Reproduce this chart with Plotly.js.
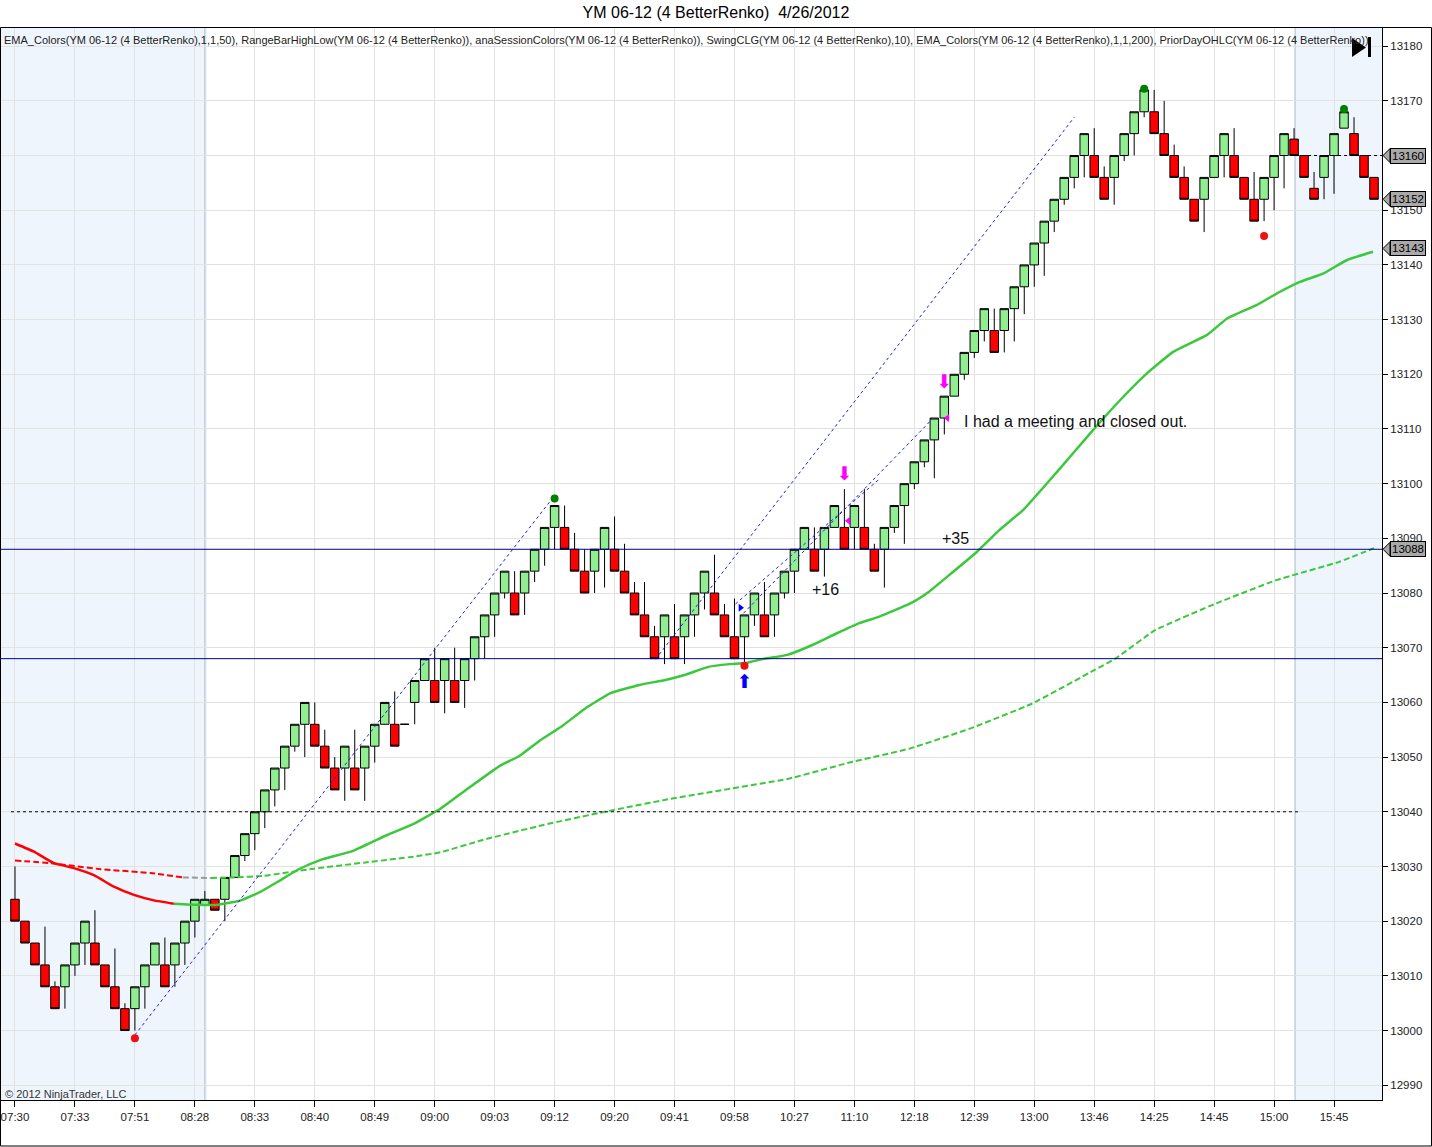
<!DOCTYPE html>
<html>
<head>
<meta charset="utf-8">
<script src="https://cdn.plot.ly/plotly-3.0.1.min.js"></script>
<style>html,body{margin:0;padding:0;background:#fff;}#chart{width:1432px;height:1147px;}</style>
</head>
<body>
<div id="chart"></div>
<script>
// ---------------- DATA ----------------
const barOpen = [13024,13020,13016,13012,13008,13008,13012,13016,13016,13012,13008,13004,13004,13008,13012,13012,13012,13016,13020,13023,
13024,13024,13028,13032,13036,13040,13044,13048,13052,13056,13056,13052,13048,13048,13048,13048,13052,13056,13056,13056,
13060,13064,13064,13064,13064,13064,13068,13072,13076,13080,13080,13080,13084,13088,13092,13092,13088,13084,13084,13088,
13088,13084,13080,13076,13072,13072,13072,13072,13076,13080,13080,13076,13072,13072,13076,13076,13076,13080,13084,13088,
13088,13088,13092,13092,13092,13092,13088,13088,13092,13096,13100,13104,13108,13112,13116,13120,13124,13128,13128,13128,
13132,13136,13140,13144,13148,13152,13156,13160,13160,13156,13156,13160,13164,13168,13168,13164,13160,13156,13152,13152,
13156,13160,13160,13156,13152,13152,13156,13160,13163,13160,13154,13156,13160,13165,13164,13160,13156];
const barHigh = [13030,13020,13016,13019,13009,13012,13016,13020,13022,13012,13015,13005,13008,13012,13016,13017,13016,13020,13024,13025.5,
13024,13028,13032,13036,13040,13044,13048,13052,13056,13060,13060,13055,13050,13052,13055,13052,13056,13060,13062,13056,
13064,13068,13070,13068,13070,13068,13072,13076,13080,13084,13084,13084,13088,13092,13096,13096,13091,13088,13088,13092,
13094,13089,13082,13082,13074,13076,13078,13076,13080,13084,13087,13078,13079,13076,13080,13082,13080,13084,13088,13092,
13092,13092,13096,13099,13096,13099,13089,13092,13096,13100,13104,13108,13112,13116,13120,13124,13128,13132,13132,13132,
13136,13140,13144,13148,13152,13156,13160,13164,13165,13158,13160,13164,13168,13172,13172,13170,13162,13158,13152,13156,
13160,13164,13165,13156,13157,13156,13160,13164,13165,13160,13157,13160,13164,13168,13167,13160,13156];
const barLow = [13020,13016,13012,13008,13004,13004,13010,13012,13012,13008,13004,13000,13000,13004,13012,13008,13008,13012,13017,13023,
13022,13020,13028,13031,13033,13037,13041,13044,13051,13050,13052,13048,13044,13042,13044,13042,13049,13056,13052,13056,
13056,13064,13060,13058,13060,13059,13064,13068,13072,13079,13076,13076,13082,13085,13088,13088,13084,13080,13080,13081,
13084,13080,13076,13072,13068,13067,13068,13067,13072,13077,13076,13072,13068,13067,13074,13072,13072,13079,13080,13088,
13084,13083,13092,13088,13088,13088,13084,13081,13091,13089,13099,13103,13101,13109,13116,13119,13123,13126,13124,13124,
13126,13131,13136,13138,13146,13151,13154,13156,13156,13152,13151,13159,13160,13167,13164,13160,13156,13152,13148,13146,
13156,13156,13156,13152,13148,13148,13150,13154,13160,13156,13152,13152,13153,13165,13160,13156,13152];
const barClose = [13020,13016,13012,13008,13004,13012,13016,13020,13012,13008,13004,13000,13008,13012,13016,13008,13016,13020,13024,13024,
13022,13028,13032,13036,13040,13044,13048,13052,13056,13060,13052,13048,13044,13052,13044,13052,13056,13060,13052,13056,
13064,13068,13060,13068,13060,13068,13072,13076,13080,13084,13076,13084,13088,13092,13096,13088,13084,13080,13088,13092,
13084,13080,13076,13072,13068,13076,13068,13076,13080,13084,13076,13072,13068,13076,13080,13072,13080,13084,13088,13092,
13084,13092,13096,13088,13096,13088,13084,13092,13096,13100,13104,13108,13112,13116,13120,13124,13128,13132,13124,13132,
13136,13140,13144,13148,13152,13156,13160,13164,13156,13152,13160,13164,13168,13172,13164,13160,13156,13152,13148,13156,
13160,13164,13156,13152,13148,13156,13160,13164,13160,13156,13152,13160,13164,13168,13160,13156,13152];

const tickBars   = [0,6,12,18,24,30,36,42,48,54,60,66,72,78,84,90,96,102,108,114,120,126,132];
const tickLabels = ["07:30","07:33","07:51","08:28","08:33","08:40","08:49","09:00","09:03","09:12","09:20","09:41",
                    "09:58","10:27","11:10","12:18","12:39","13:00","13:46","14:25","14:45","15:00","15:45"];

// EMA(50) solid
const ema50Bar = [0,1.9,3.9,5.9,7.9,9.9,11.9,13.9,15.9,18.3,20.3,22.6,24.6,26.3,28.3,30.6,33.9,37.3,39.9,42.6,45.5,48.6,50.4,52.5,54.7,57.0,59.6,62.5,65.1,67.0,69.4,71.5,73.1,75.0,77.3,79.8,82.2,84.5,86.5,89.6,91.5,93.3,96.3,98.5,100.9,104.3,107.6,110.3,113.3,115.9,119.3,121.3,124.3,126.5,128.6,130.9,133.3,135.9];
const ema50Val = [13034.2,13032.7,13030.6,13029.7,13028.4,13026.3,13024.8,13023.8,13023.2,13023.0,13023.0,13023.8,13025.4,13027.2,13029.4,13031.2,13032.9,13035.8,13037.8,13040.6,13044.5,13048.5,13050.1,13053.0,13055.6,13058.8,13061.7,13063.2,13064.1,13065.0,13066.5,13067.0,13067.2,13068.0,13068.7,13070.5,13072.6,13074.5,13075.7,13078.1,13080.3,13083.0,13087.6,13091.5,13095.2,13102.2,13109.2,13114.7,13120.2,13124.1,13127.2,13130.2,13132.7,13135.0,13136.9,13138.4,13140.9,13142.4];
const ema50RedUntil = 8;   // index of last falling (red) point

// EMA(200) dashed
const ema200Bar = [0,3.6,8.6,13.6,16.8,19.6,21.9,24.9,29.9,34.9,39.9,42.6,46.7,52.9,59.0,65.1,71.2,77.3,83.5,89.6,95.7,101.8,108.0,110.1,114.1,120.2,126.3,132.5,136.0];
const ema200Val = [13031.1,13030.6,13029.5,13028.8,13028.0,13027.9,13028.0,13028.3,13029.6,13030.7,13031.8,13032.6,13034.8,13037.6,13040.0,13042.2,13044.1,13046.0,13049.0,13051.6,13055.3,13059.8,13065.9,13068.0,13073.2,13078.1,13082.4,13085.7,13088.2];
const ema200RedUntil = 4, ema200GreyUntil = 5;

// swing points
const swingHighBar = [54,113,133], swingHighVal = [13097.3,13172.2,13168.5];
const swingLowBar  = [12,73,125],  swingLowVal  = [12998.6,13066.7,13145.3];

// drawn trend lines [bar0, price0, bar1, price1]
const trendLines = [
  [12.0,12999.2,53.9,13097.6],
  [64.1,13067.9,106.0,13167.0],
  [72.1,13078.0,86.6,13101.0],
  [72.9,13076.3,91.9,13112.0]
];

// signal arrows
const exitArrowBar = [83,93], exitArrowVal = [13101.6,13118.4];
const entryArrowBar = [73], entryArrowVal = [13063.5];
const exitMarkBar = [83.4,93.3], exitMarkVal = [13093.2,13112.0];
const entryMarkBar = [72.6], entryMarkVal = [13077.3];

// levels
const levelLines = [13088,13068];
const priorDayLevel = 13040;
const priorCloseLevel = 13160;
const axisTags = [13160,13152,13143,13088];

const notes = [
  {bar:81.1, val:13080.7, text:"+16", anchor:"center"},
  {bar:94.1, val:13089.9, text:"+35", anchor:"center"},
  {bar:94.8, val:13111.3, text:"I had a meeting and closed out.", anchor:"left"}
];

const titleText = "YM 06-12 (4 BetterRenko)  4/26/2012";
const headerText = "EMA_Colors(YM 06-12 (4 BetterRenko),1,1,50), RangeBarHighLow(YM 06-12 (4 BetterRenko)), anaSessionColors(YM 06-12 (4 BetterRenko)), SwingCLG(YM 06-12 (4 BetterRenko),10), EMA_Colors(YM 06-12 (4 BetterRenko),1,1,200), PriorDayOHLC(YM 06-12 (4 BetterRenko))";
const copyrightText = "© 2012 NinjaTrader, LLC";

// ---------------- LAYOUT HELPERS ----------------
const W = 1432, H = 1147, ML = 1, MR = 50, MT = 27, MB = 47;
const PW = W - ML - MR, PH = H - MT - MB;
const px2x = px => (px - ML) / PW;
const py2y = py => 1 - (py - MT) / PH;
const Y0 = 12987.3, Y1 = 13183.5;
const ptsPerPx = (Y1 - Y0) / PH;
const FONT = "Liberation Sans, Arial, sans-serif";
const bars = barOpen.map((_, i) => i);
const GREEN = "#3cc83c", RED = "#ff0000";

const traces = [];
// candles
traces.push({
  type: "candlestick", x: bars, open: barOpen, high: barHigh, low: barLow, close: barClose,
  increasing: {line: {color: "#000", width: 1}, fillcolor: "#90ee90"},
  decreasing: {line: {color: "#000", width: 1}, fillcolor: "#ff0000"},
  whiskerwidth: 0, hoverinfo: "skip", showlegend: false
});
// EMA 50
traces.push({type:"scatter", mode:"lines", x: ema50Bar.slice(0, ema50RedUntil+1), y: ema50Val.slice(0, ema50RedUntil+1),
  line:{color:RED, width:2.5, shape:"spline", smoothing:0.4}, hoverinfo:"skip", showlegend:false});
traces.push({type:"scatter", mode:"lines", x: ema50Bar.slice(ema50RedUntil), y: ema50Val.slice(ema50RedUntil),
  line:{color:GREEN, width:2.5, shape:"spline", smoothing:0.4}, hoverinfo:"skip", showlegend:false});
// EMA 200
traces.push({type:"scatter", mode:"lines", x: ema200Bar.slice(0, ema200RedUntil+1), y: ema200Val.slice(0, ema200RedUntil+1),
  line:{color:RED, width:2, dash:"6px,3px", shape:"spline", smoothing:0.4}, hoverinfo:"skip", showlegend:false});
traces.push({type:"scatter", mode:"lines", x: ema200Bar.slice(ema200RedUntil, ema200GreyUntil+1), y: ema200Val.slice(ema200RedUntil, ema200GreyUntil+1),
  line:{color:"#999999", width:2, dash:"6px,3px"}, hoverinfo:"skip", showlegend:false});
traces.push({type:"scatter", mode:"lines", x: ema200Bar.slice(ema200GreyUntil), y: ema200Val.slice(ema200GreyUntil),
  line:{color:GREEN, width:2, dash:"6px,3px", shape:"spline", smoothing:0.4}, hoverinfo:"skip", showlegend:false});
// trend lines
trendLines.forEach(t => traces.push({type:"scatter", mode:"lines", x:[t[0],t[2]], y:[t[1],t[3]],
  line:{color:"#2020e0", width:1, dash:"dot"}, hoverinfo:"skip", showlegend:false}));
// swing dots
traces.push({type:"scatter", mode:"markers", x:swingHighBar, y:swingHighVal,
  marker:{color:"#008000", size:8, symbol:"circle"}, hoverinfo:"skip", showlegend:false});
traces.push({type:"scatter", mode:"markers", x:swingLowBar, y:swingLowVal,
  marker:{color:"#ee1111", size:8, symbol:"circle"}, hoverinfo:"skip", showlegend:false});
// arrows
traces.push({type:"scatter", mode:"text", x:exitArrowBar, y:exitArrowVal, text:exitArrowBar.map(()=>"⬇"),
  textfont:{color:"#ff00ff", size:19, family:"DejaVu Sans"}, hoverinfo:"skip", showlegend:false});
traces.push({type:"scatter", mode:"text", x:entryArrowBar, y:entryArrowVal, text:entryArrowBar.map(()=>"⬆"),
  textfont:{color:"#0000ff", size:19, family:"DejaVu Sans"}, hoverinfo:"skip", showlegend:false});
traces.push({type:"scatter", mode:"markers", x:exitMarkBar, y:exitMarkVal,
  marker:{color:"#ff00ff", size:7, symbol:"triangle-left"}, hoverinfo:"skip", showlegend:false});
traces.push({type:"scatter", mode:"markers", x:entryMarkBar, y:entryMarkVal,
  marker:{color:"#0000ff", size:7, symbol:"triangle-right"}, hoverinfo:"skip", showlegend:false});

// ---------------- SHAPES ----------------
const shapes = [];
// session shading
shapes.push({type:"rect", layer:"below", xref:"x", yref:"paper", x0:-1.5, x1:19.2, y0:0, y1:1, fillcolor:"#eef5fd", line:{width:0}});
shapes.push({type:"rect", layer:"below", xref:"x", yref:"paper", x0:128.1, x1:137, y0:0, y1:1, fillcolor:"#eef5fd", line:{width:0}});
[19.0, 128.1].forEach(b => shapes.push({type:"line", layer:"below", xref:"x", yref:"paper", x0:b, x1:b, y0:0, y1:1, line:{color:"#b8c4d2", width:1.2}}));
// level lines
levelLines.forEach(v => shapes.push({type:"line", xref:"paper", yref:"y", x0:0, x1:1, y0:v, y1:v, line:{color:"#000080", width:1}}));
shapes.push({type:"line", xref:"x", yref:"y", x0:-0.4, x1:128.4, y0:priorDayLevel, y1:priorDayLevel, line:{color:"#000", width:1, dash:"dot"}});
shapes.push({type:"line", xref:"x", yref:"y", x0:128.2, x1:137, y0:priorCloseLevel, y1:priorCloseLevel, line:{color:"#000", width:1, dash:"dot"}});
// outer frame
shapes.push({type:"rect", xref:"paper", yref:"paper", x0:px2x(0.5), x1:px2x(1431.5), y0:py2y(1146), y1:py2y(27.5), line:{color:"#000", width:1}, fillcolor:"rgba(0,0,0,0)"});
// end icon
shapes.push({type:"path", xref:"paper", yref:"paper",
  path:`M ${px2x(1352)} ${py2y(38)} L ${px2x(1352)} ${py2y(57)} L ${px2x(1366)} ${py2y(47.5)} Z`, fillcolor:"#000", line:{width:0}});
shapes.push({type:"rect", xref:"paper", yref:"paper", x0:px2x(1368), x1:px2x(1371), y0:py2y(57), y1:py2y(37), fillcolor:"#000", line:{width:0}});
// axis tags arrows
axisTags.forEach(v => shapes.push({type:"path", xref:"paper", yref:"y",
  path:`M ${px2x(1383)} ${v} L ${px2x(1390)} ${v + 7*ptsPerPx} L ${px2x(1390)} ${v - 7*ptsPerPx} Z`, fillcolor:"#a9a9a9", line:{color:"#000", width:1}}));

// ---------------- ANNOTATIONS ----------------
const annotations = [];
annotations.push({xref:"paper", yref:"paper", x:px2x(2), y:py2y(40), xanchor:"left", yanchor:"middle", showarrow:false,
  text: headerText, font:{family:FONT, size:11, color:"#222"}});
annotations.push({xref:"paper", yref:"paper", x:px2x(3), y:py2y(1094), xanchor:"left", yanchor:"middle", showarrow:false,
  text: copyrightText, font:{family:FONT, size:11, color:"#333"}});
notes.forEach(n => annotations.push({xref:"x", yref:"y", x:n.bar, y:n.val, xanchor:n.anchor, yanchor:"middle", showarrow:false,
  text:n.text, font:{family:FONT, size:16, color:"#111"}}));
axisTags.forEach(v => annotations.push({xref:"paper", yref:"y", x:px2x(1390), y:v, xanchor:"left", yanchor:"middle", showarrow:false,
  text:String(v), font:{family:FONT, size:11.5, color:"#000"}, bgcolor:"#a9a9a9", bordercolor:"#000", borderwidth:1, borderpad:1}));

const layout = {
  width: W, height: H, margin: {l: ML, r: MR, t: MT, b: MB},
  paper_bgcolor: "#fff", plot_bgcolor: "#fff",
  title: {text: titleText, x: 0.5, xanchor: "center", y: 1 - 12/H, yanchor: "middle", font: {family: FONT, size: 16, color: "#000"}},
  showlegend: false, boxgap: 0.15, boxgroupgap: 0,
  xaxis: {type: "linear", range: [-1.4, 136.8], tickmode: "array", tickvals: tickBars, ticktext: tickLabels,
    showgrid: true, gridcolor: "#e2e2e2", gridwidth: 1, zeroline: false, showline: true, linecolor: "#000", linewidth: 1,
    ticks: "outside", ticklen: 6, tickcolor: "#000", tickfont: {family: FONT, size: 11.5, color: "#222"},
    rangeslider: {visible: false}, fixedrange: true},
  yaxis: {side: "right", range: [Y0, Y1], tick0: 12990, dtick: 10, tickformat: "d", showgrid: true, gridcolor: "#e2e2e2", gridwidth: 1,
    zeroline: false, showline: true, linecolor: "#000", linewidth: 1, ticks: "outside", ticklen: 5, tickcolor: "#000",
    tickfont: {family: FONT, size: 11.5, color: "#222"}, fixedrange: true},
  shapes: shapes, annotations: annotations
};

Plotly.newPlot("chart", traces, layout, {staticPlot: true, displayModeBar: false});
</script>
</body>
</html>
